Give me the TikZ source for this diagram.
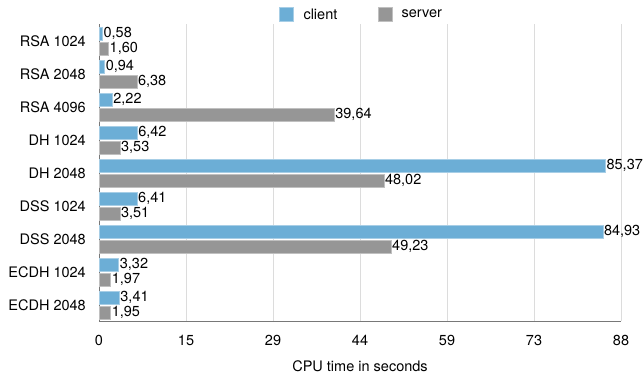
\documentclass[tikz,border=0pt]{standalone}
\usepackage{fontspec}
\setmainfont{TeX Gyre Heros}
\usetikzlibrary{positioning}
\definecolor{clientblue}{RGB}{108,174,214}
\definecolor{servergray}{RGB}{150,150,150}
\definecolor{gridgray}{RGB}{220,220,220}
\definecolor{axisgray}{RGB}{120,120,120}
\tikzset{
  clientbar/.style={fill=clientblue, draw=clientblue!60!white, line width=0.6pt},
  serverbar/.style={fill=servergray, draw=servergray!60!white, line width=0.6pt},
  valtext/.style={anchor=west, inner sep=1pt, font=\fontsize{14.5}{16}\selectfont},
  cattext/.style={anchor=east, inner sep=0pt, font=\fontsize{14.5}{16}\selectfont},
  ticktext/.style={inner sep=0pt, font=\fontsize{14.5}{16}\selectfont},
}
\newcommand{\xu}{5.932}
\begin{document}
\begin{tikzpicture}[x=1pt, y=-1pt]
	\useasboundingbox (0,0) rectangle (643,375);
	% grid and ticks
	\foreach \t [count=\k from 0] in {0,15,29,44,59,73,88} {
		\draw[gridgray, line width=1pt] ({99+87*\k}, 24) -- ({99+87*\k}, 321);
		\node[ticktext] (tick\k) at ({99+87*\k}, 340) {\t};
	}
	\draw[axisgray, line width=1pt] (99,24) -- (99,321) -- (621,321);
	\node[ticktext] (xlabel) at (360,366) {CPU time in seconds};
	% bars
	\foreach \name/\c/\ct/\s/\st [count=\i from 0] in {
		RSA 1024/0.58/{0,58}/1.60/{1,60},
		RSA 2048/0.94/{0,94}/6.38/{6,38},
		RSA 4096/2.22/{2,22}/39.64/{39,64},
		DH 1024/6.42/{6,42}/3.53/{3,53},
		DH 2048/85.37/{85,37}/48.02/{48,02},
		DSS 1024/6.41/{6,41}/3.51/{3,51},
		DSS 2048/84.93/{84,93}/49.23/{49,23},
		ECDH 1024/3.32/{3,32}/1.97/{1,97},
		ECDH 2048/3.41/{3,41}/1.95/{1,95}} {
		\draw[clientbar] (99, {24+33*\i+3}) rectangle ({99+\c*\xu}, {24+33*\i+16});
		\draw[serverbar] (99, {24+33*\i+18}) rectangle ({99+\s*\xu}, {24+33*\i+31});
		\node[valtext] (cval\i) at ({99+\c*\xu}, {24+33*\i+9.5}) {\ct};
		\node[valtext] (sval\i) at ({99+\s*\xu}, {24+33*\i+24.5}) {\st};
		\node[cattext] (cat\i) at (86, {24+33*\i+17}) {\name};
	}
	% legend
	\node[clientbar, minimum size=14pt, inner sep=0pt] (lclient) at (286,14) {};
	\node[ticktext, right=10pt of lclient] (tclient) {client};
	\node[serverbar, minimum size=14pt, inner sep=0pt] (lserver) at (385,14) {};
	\node[ticktext, right=9pt of lserver] (tserver) {server};
\end{tikzpicture}
\end{document}
